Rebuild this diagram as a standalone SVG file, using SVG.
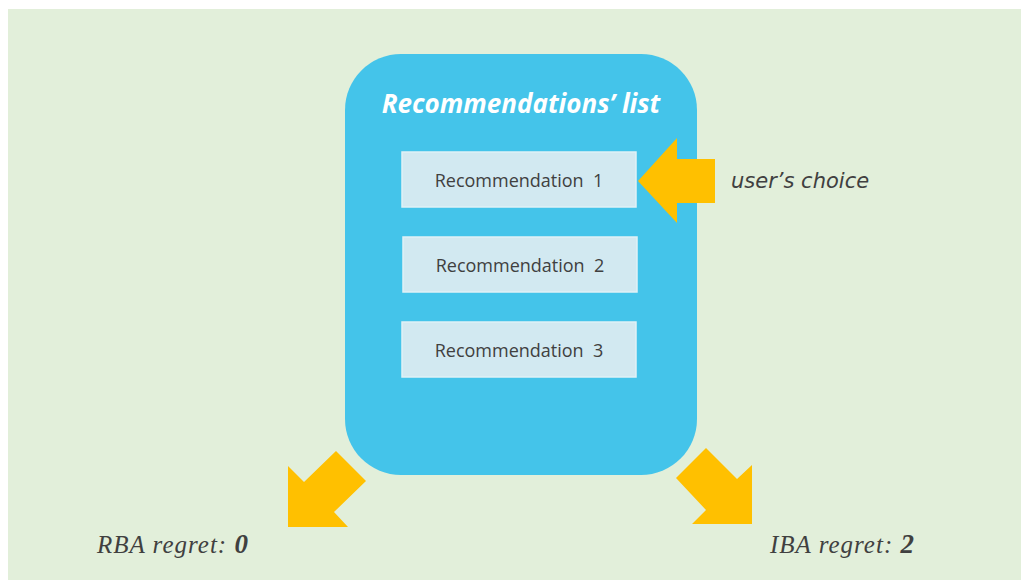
<svg xmlns="http://www.w3.org/2000/svg" width="1021" height="580" viewBox="0 0 1021 580">
<style>
.box{fill:#D2E9F1;stroke:#E0F1F6;stroke-width:1.5}
.rt{font-family:"Open Sans","Liberation Sans",sans-serif;font-size:18px;fill:#404040;text-anchor:middle;white-space:pre}
.arrow{fill:#FFC000}
.lab{font-family:"Liberation Serif",serif;font-style:italic;fill:#404040;font-size:25px;letter-spacing:1px}
</style>
<rect x="0" y="0" width="1021" height="580" fill="#ffffff"/>
<rect x="8" y="9" width="1013" height="571" fill="#E2EFDA"/>
<g id="list">
<rect x="345" y="54" width="352" height="421" rx="56" ry="56" fill="#44C4EA"/>
<text x="521" y="113" text-anchor="middle" font-family="Open Sans, Liberation Sans, sans-serif" font-size="26" font-weight="bold" font-style="italic" fill="#ffffff">Recommendations’ list</text>
</g>
<g id="rec1">
<rect class="box" x="402" y="152" width="234" height="55"/>
<text class="rt" x="519" y="187">Recommendation  1</text>
</g>
<g id="rec2">
<rect class="box" x="403" y="237" width="234" height="55"/>
<text class="rt" x="520" y="272">Recommendation  2</text>
</g>
<g id="rec3">
<rect class="box" x="402" y="322" width="234" height="55"/>
<text class="rt" x="519" y="357">Recommendation  3</text>
</g>
<g id="connectors">
<polygon class="arrow" points="638,181 677,138 677,159 715,159 715,203 677,203 677,223"/>
<polygon class="arrow" points="288,466 304,482 336,451 366,481 334,512 348,527 288,527"/>
<polygon class="arrow" points="752,465 737,479 706,448 676,478 706,510 692,524 752,524"/>
</g>
<g id="labels">
<text x="731" y="188" font-family="DejaVu Sans, sans-serif" font-style="italic" font-size="21" fill="#404040">user’s choice</text>
<text class="lab" x="97" y="553">RBA regret: <tspan font-weight="bold" font-size="27">0</tspan></text>
<text class="lab" x="770" y="553">IBA regret: <tspan font-weight="bold" font-size="27">2</tspan></text>
</g>
</svg>
